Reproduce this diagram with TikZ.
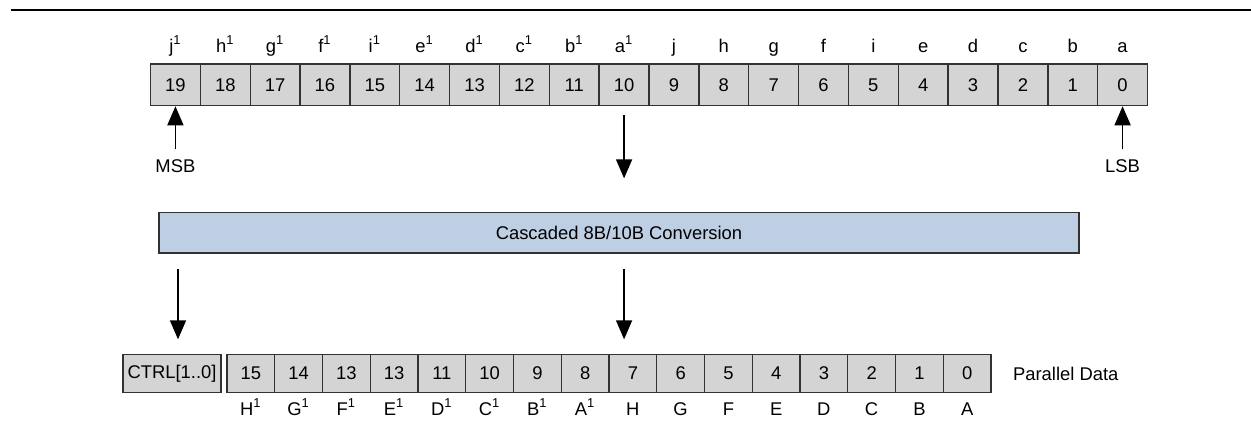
\documentclass[tikz,border=0pt]{standalone}
\usepackage{fontspec}
\setmainfont{Liberation Sans}
\usepackage{tikz}
\usetikzlibrary{arrows.meta,positioning,calc}
\definecolor{cellgray}{RGB}{212,212,212}
\definecolor{convblue}{RGB}{190,207,228}
\definecolor{edgegray}{RGB}{50,50,50}

\begin{document}
\begin{tikzpicture}[x=1pt,y=1pt,font=\fontsize{9.2}{11}\selectfont,
  cell/.style={draw=edgegray,fill=cellgray,line width=0.7pt,minimum height=20.75pt,minimum width=24.925pt,inner sep=0pt},
  lowcell/.style={cell,minimum height=19pt,minimum width=23.875pt},
  bitname/.style={anchor=base,inner sep=0pt},
  sig/.style={line width=0.8pt,-{Triangle[length=9.5pt,width=8pt]}}]
  \useasboundingbox (0,0) rectangle (625.5,-212.5);
  \draw[line width=1pt] (5.5,-5)--(625.5,-5);
  % 20-bit code group
  \foreach \n/\lbl in {0/a,1/b,2/c,3/d,4/e,5/i,6/f,7/g,8/h,9/j,
      10/a\textsuperscript{1},11/b\textsuperscript{1},12/c\textsuperscript{1},13/d\textsuperscript{1},14/e\textsuperscript{1},
      15/i\textsuperscript{1},16/f\textsuperscript{1},17/g\textsuperscript{1},18/h\textsuperscript{1},19/j\textsuperscript{1}}{
    \node[cell] (t\n) at ({573.75-24.925*(\n+0.5)},-42.4) {\n};
    \node[bitname] at ({573.75-24.925*(\n+0.5)},-26) {\lbl};
  }
  \node[below=26.5pt of t19,inner sep=0pt] (msb) {MSB};
  \node[below=26.5pt of t0,inner sep=0pt] (lsb) {LSB};
  \draw[sig] ([yshift=5pt]msb.north) -- (t19.south);
  \draw[sig] ([yshift=5pt]lsb.north) -- (t0.south);

  \node[draw=edgegray,fill=convblue,line width=0.7pt,minimum width=460pt,minimum height=20.25pt] (conv) at (309.5,-116.4) {Cascaded 8B/10B Conversion};
  \draw[sig] ([yshift=-4.25pt]t10.south) -- ($(conv.north -| t10)+(0,16.75)$);

  % parallel data word
  \node[cell,minimum width=49pt,minimum height=19pt] (ctrl) at (86,-186.75) {CTRL[1..0]};
  \foreach \n/\val/\lbl in {0/0/A,1/1/B,2/2/C,3/3/D,4/4/E,5/5/F,6/6/G,7/7/H,
      8/8/A\textsuperscript{1},9/9/B\textsuperscript{1},10/10/C\textsuperscript{1},11/11/D\textsuperscript{1},
      12/13/E\textsuperscript{1},13/13/F\textsuperscript{1},14/14/G\textsuperscript{1},15/15/H\textsuperscript{1}}{
    \node[lowcell] (p\n) at ({495.5-23.875*(\n+0.5)},-186.75) {\val};
    \node[bitname] at ({495.5-23.875*(\n+0.5)},-207.5) {\lbl};
  }
  \node[right=10.5pt of p0,inner sep=0pt] (pdata) {Parallel Data};
  \draw[sig] ($(conv.south -| ctrl)+(3,-7.5)$) -- ($(ctrl.north)+(3,7.25)$);
  \draw[sig] ($(conv.south -| t10)+(0,-7.5)$) -- ($(p7.north -| t10)+(0,7.25)$);
\end{tikzpicture}
\end{document}
